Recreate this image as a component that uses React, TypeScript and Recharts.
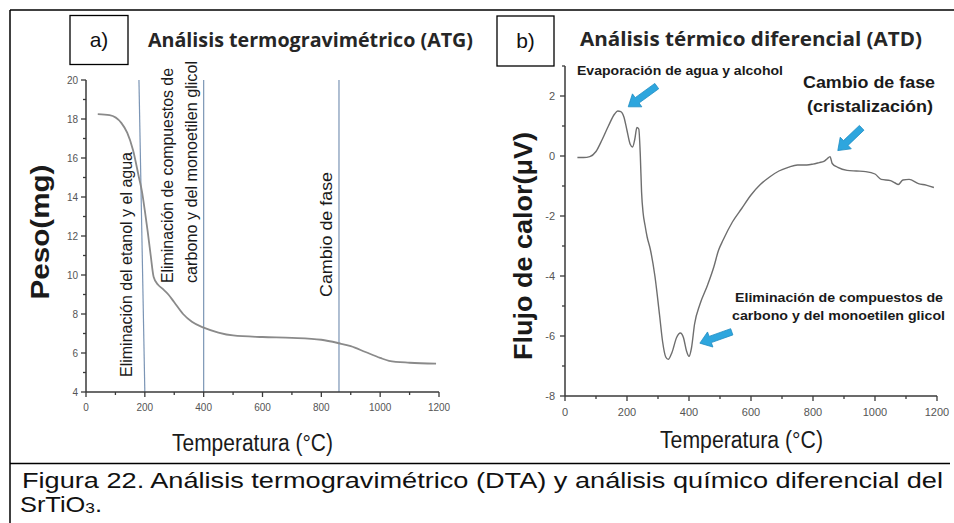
import React from 'react';
import { LineChart, Line, XAxis, YAxis, ReferenceLine } from 'recharts';

// ---------- data ----------
const tgaTemp = [40, 80, 120, 140, 160, 180, 190, 200, 210, 220, 230, 245, 260, 280, 300, 330, 360, 400, 450, 500, 600, 700, 800, 860, 900, 950, 1000, 1030, 1100, 1190];
const tgaWeight = [18.25, 18.2, 17.8, 17.3, 16.4, 15.0, 14.3, 13.3, 12.2, 11.0, 9.9, 9.5, 9.3, 9.0, 8.6, 8.0, 7.6, 7.3, 7.05, 6.9, 6.82, 6.78, 6.68, 6.5, 6.35, 6.05, 5.75, 5.6, 5.5, 5.45];

const dtaTemp = [40, 60, 80, 100, 120, 140, 160, 170, 180, 190, 200, 210, 218, 225, 232, 238, 243, 247, 252, 258, 265, 275, 290, 305, 315, 325, 333, 345, 360, 372, 382, 392, 400, 408, 418, 435, 460, 480, 495, 510, 540, 570, 600, 630, 660, 690, 720, 750, 780, 800, 820, 835, 845, 855, 862, 880, 910, 940, 970, 1000, 1020, 1050, 1065, 1075, 1090, 1110, 1140, 1165, 1190];
const dtaFlow = [-0.05, -0.05, -0.02, 0.15, 0.55, 1.0, 1.4, 1.5, 1.48, 1.3, 0.85, 0.4, 0.3, 0.55, 0.95, 0.9, 0.0, -1.2, -1.9, -2.3, -2.7, -3.1, -4.0, -5.3, -6.2, -6.7, -6.78, -6.55, -6.05, -5.9, -6.05, -6.5, -6.68, -6.4, -5.6, -4.95, -4.3, -3.7, -3.15, -2.8, -2.2, -1.75, -1.3, -0.95, -0.7, -0.5, -0.38, -0.3, -0.3, -0.27, -0.22, -0.18, -0.1, -0.02, -0.25, -0.38, -0.48, -0.5, -0.52, -0.6, -0.78, -0.82, -0.9, -0.95, -0.8, -0.78, -0.92, -0.97, -1.05];

const xTicks = [0, 100, 200, 300, 400, 500, 600, 700, 800, 900, 1000, 1100, 1200];
const tgaYTicks = [4, 5, 6, 7, 8, 9, 10, 11, 12, 13, 14, 15, 16, 17, 18, 19, 20];
const dtaYTicks = [-8, -7, -6, -5, -4, -3, -2, -1, 0, 1, 2, 3];

// event markers on the TGA chart (temperature, °C)
const tgaSlantLine = [{ x: 180, y: 20 }, { x: 200, y: 4 }];
const tgaEventLines = [400, 860];

// arrows on the DTA chart: [tailT, tailV, headT, headV]
const dtaArrows = [
  [296, 2.33, 204, 1.64],
  [957, 0.94, 880, 0.18],
  [538, -5.86, 435, -6.24],
];

const tgaData = tgaTemp.map((t, i) => ({ t, w: tgaWeight[i] }));
const dtaData = dtaTemp.map((t, i) => ({ t, f: dtaFlow[i] }));

// ---------- styles ----------
const SANS = "'Liberation Sans', Arial, sans-serif";
const AX = '#3a3a3a';
const W = 954;
const H = 523;

const XTick = (props: any) => {
  const { x, y, payload, fs, off, major } = props;
  const v = payload.value;
  const isMajor = v % major === 0;
  return (
    <g>
      <line x1={x} x2={x} y1={y} y2={y + (isMajor ? 5 : 3)} stroke={AX} strokeWidth={1.3} />
      {isMajor && (
        <text x={x} y={y + off} textAnchor="middle" dominantBaseline="central" fontSize={fs} fontFamily={SANS} fill="#555">
          {v}
        </text>
      )}
    </g>
  );
};

const YTick = (props: any) => {
  const { x, y, payload, fs, off, labelled } = props;
  const v = payload.value;
  const isMajor = labelled.includes(v);
  return (
    <g>
      <line x1={x - (isMajor ? 5 : 3)} x2={x} y1={y} y2={y} stroke={AX} strokeWidth={1.3} />
      {isMajor && (
        <text x={x - off} y={y} textAnchor="end" dominantBaseline="central" fontSize={fs} fontFamily={SANS} fill="#555">
          {v}
        </text>
      )}
    </g>
  );
};

const arrowShape = (p: any) => {
  const { x1, y1, x2, y2 } = p;
  const dx = x2 - x1;
  const dy = y2 - y1;
  const L = Math.hypot(dx, dy) || 1;
  const ux = dx / L;
  const uy = dy / L;
  const nx = -uy;
  const ny = ux;
  const hl = 11;
  const hw = 8;
  const bw = 3.3;
  const bx = x2 - ux * hl;
  const by = y2 - uy * hl;
  const pts = [
    [x1 + nx * bw, y1 + ny * bw],
    [bx + nx * bw, by + ny * bw],
    [bx + nx * hw, by + ny * hw],
    [x2, y2],
    [bx - nx * hw, by - ny * hw],
    [bx - nx * bw, by - ny * bw],
    [x1 - nx * bw, y1 - ny * bw],
  ]
    .map((q) => q.join(','))
    .join(' ');
  return <polygon points={pts} fill="#2ea6de" stroke="#1e8cc2" strokeWidth={0.8} />;
};

const Rot = ({ x, y, children, size = 16, len, weight = 'normal', anchor = 'start' }: any) => (
  <text
    transform={`translate(${x},${y}) rotate(-90)`}
    fontFamily={SANS}
    fontSize={size}
    fontWeight={weight}
    textAnchor={anchor}
    fill="#1a1a1a"
    textLength={len}
    lengthAdjust="spacingAndGlyphs"
  >
    {children}
  </text>
);

export default function App() {
  return (
    <div style={{ position: 'absolute', left: 0, top: 0, width: W, height: H, background: '#fff' }}>
      {/* TGA chart */}
      <div style={{ position: 'absolute', left: 0, top: 0 }}>
        <LineChart width={W} height={H} data={tgaData} margin={{ top: 80, left: 46, right: W - 439, bottom: H - 392 - 30 }}>
          <XAxis
            type="number"
            dataKey="t"
            domain={[0, 1200]}
            ticks={xTicks}
            interval={0}
            tickSize={0}
            tickMargin={0}
            tickLine={false}
            height={30}
            stroke={AX}
            strokeWidth={1.5}
            tick={(p: any) => <XTick {...p} fs={10} off={15} major={200} />}
          />
          <YAxis
            type="number"
            domain={[4, 20]}
            ticks={tgaYTicks}
            interval={0}
            width={40}
            tickSize={0}
            tickMargin={0}
            tickLine={false}
            stroke={AX}
            strokeWidth={1.5}
            tick={(p: any) => <YTick {...p} fs={10} off={8} labelled={[4, 6, 8, 10, 12, 14, 16, 18, 20]} />}
          />
          <ReferenceLine segment={tgaSlantLine} stroke="#7b95b5" strokeWidth={1.2} ifOverflow="visible" />
          {tgaEventLines.map((t) => (
            <ReferenceLine key={t} x={t} stroke="#7b95b5" strokeWidth={1.2} />
          ))}
          <Line type="monotone" dataKey="w" stroke="#8a8a8a" strokeWidth={1.8} dot={false} isAnimationActive={false} />
        </LineChart>
      </div>

      {/* DTA chart */}
      <div style={{ position: 'absolute', left: 0, top: 0 }}>
        <LineChart width={W} height={H} data={dtaData} margin={{ top: 66, left: 525, right: W - 937, bottom: H - 396 - 30 }}>
          <XAxis
            type="number"
            dataKey="t"
            domain={[0, 1200]}
            ticks={xTicks}
            interval={0}
            tickSize={0}
            tickMargin={0}
            tickLine={false}
            height={30}
            stroke={AX}
            strokeWidth={1.5}
            tick={(p: any) => <XTick {...p} fs={11} off={16} major={200} />}
          />
          <YAxis
            type="number"
            domain={[-8, 3]}
            ticks={dtaYTicks}
            interval={0}
            width={40}
            tickSize={0}
            tickMargin={0}
            tickLine={false}
            stroke={AX}
            strokeWidth={1.5}
            tick={(p: any) => <YTick {...p} fs={11} off={10} labelled={[-8, -6, -4, -2, 0, 2]} />}
          />
          {dtaArrows.map((a, i) => (
            <ReferenceLine
              key={i}
              segment={[{ x: a[0], y: a[1] }, { x: a[2], y: a[3] }]}
              shape={arrowShape}
              ifOverflow="visible"
            />
          ))}
          <Line type="monotone" dataKey="f" stroke="#6e6e6e" strokeWidth={1.4} dot={false} isAnimationActive={false} />
        </LineChart>
      </div>

      {/* text & frame overlay */}
      <svg width={W} height={H} style={{ position: 'absolute', left: 0, top: 0, pointerEvents: 'none' }}>
        {/* frame */}
        <line x1={10} y1={10} x2={W} y2={10} stroke="#000" strokeWidth={1.5} />
        <line x1={10} y1={10} x2={10} y2={H} stroke="#000" strokeWidth={1.5} />
        <line x1={10} y1={463.5} x2={950} y2={463.5} stroke="#000" strokeWidth={1.5} />

        {/* panel boxes */}
        <rect x={70} y={15.5} width={58} height={49} fill="#fff" stroke="#000" strokeWidth={1.3} />
        <text x={99} y={47} textAnchor="middle" fontFamily={SANS} fontSize={21} fill="#111">a)</text>
        <rect x={497} y={16} width={57} height={50} fill="#fff" stroke="#000" strokeWidth={1.3} />
        <text x={525.5} y={48} textAnchor="middle" fontFamily={SANS} fontSize={21} fill="#111">b)</text>

        {/* titles */}
        <text x={148} y={47} fontFamily="'Open Sans', sans-serif" fontWeight="bold" fontSize={19} fill="#262626" textLength={325} lengthAdjust="spacingAndGlyphs">
          Análisis termogravimétrico (ATG)
        </text>
        <text x={580} y={46} fontFamily="'Open Sans', sans-serif" fontWeight="bold" fontSize={19} fill="#262626" textLength={342} lengthAdjust="spacingAndGlyphs">
          Análisis térmico diferencial (ATD)
        </text>

        {/* axis titles */}
        <Rot x={49} y={232} size={26} weight="bold" anchor="middle" len={135}>Peso(mg)</Rot>
        <Rot x={532} y={246} size={26} weight="bold" anchor="middle" len={228}>Flujo de calor(μV)</Rot>
        <text x={252.5} y={451} textAnchor="middle" fontFamily={SANS} fontSize={23} fill="#1a1a1a" textLength={161} lengthAdjust="spacingAndGlyphs">
          Temperatura (°C)
        </text>
        <text x={741.5} y={448} textAnchor="middle" fontFamily={SANS} fontSize={23} fill="#1a1a1a" textLength={163} lengthAdjust="spacingAndGlyphs">
          Temperatura (°C)
        </text>

        {/* TGA annotations */}
        <Rot x={132} y={377} size={16} len={225}>Eliminación del etanol y el agua</Rot>
        <Rot x={173} y={283} size={16} len={215}>Eliminación de compuestos de</Rot>
        <Rot x={197} y={283} size={16} len={222}>carbono y del monoetilen glicol</Rot>
        <Rot x={332} y={297} size={17} len={125}>Cambio de fase</Rot>

        {/* DTA annotations */}
        <text x={577} y={75} fontFamily={SANS} fontWeight="bold" fontSize={13} fill="#1a1a1a" textLength={206} lengthAdjust="spacingAndGlyphs">
          Evaporación de agua y alcohol
        </text>
        <text x={869} y={88} textAnchor="middle" fontFamily={SANS} fontWeight="bold" fontSize={16} fill="#1a1a1a" textLength={132} lengthAdjust="spacingAndGlyphs">
          Cambio de fase
        </text>
        <text x={870} y={112} textAnchor="middle" fontFamily={SANS} fontWeight="bold" fontSize={16} fill="#1a1a1a" textLength={126} lengthAdjust="spacingAndGlyphs">
          (cristalización)
        </text>
        <text x={839} y={302} textAnchor="middle" fontFamily={SANS} fontWeight="bold" fontSize={13.5} fill="#1a1a1a" textLength={208} lengthAdjust="spacingAndGlyphs">
          Eliminación de compuestos de
        </text>
        <text x={838.5} y={320} textAnchor="middle" fontFamily={SANS} fontWeight="bold" fontSize={13.5} fill="#1a1a1a" textLength={213} lengthAdjust="spacingAndGlyphs">
          carbono y del monoetilen glicol
        </text>

        {/* caption */}
        <text x={22} y={488} fontFamily={SANS} fontSize={22} fill="#111" textLength={921} lengthAdjust="spacingAndGlyphs">
          Figura 22. Análisis termogravimétrico (DTA) y análisis químico diferencial del
        </text>
        <text x={20} y={512} fontFamily={SANS} fontSize={22} fill="#111" textLength={82} lengthAdjust="spacingAndGlyphs">
          SrTiO<tspan fontSize={15} dy={1}>3</tspan>
          <tspan dy={-1}>.</tspan>
        </text>
      </svg>
    </div>
  );
}
